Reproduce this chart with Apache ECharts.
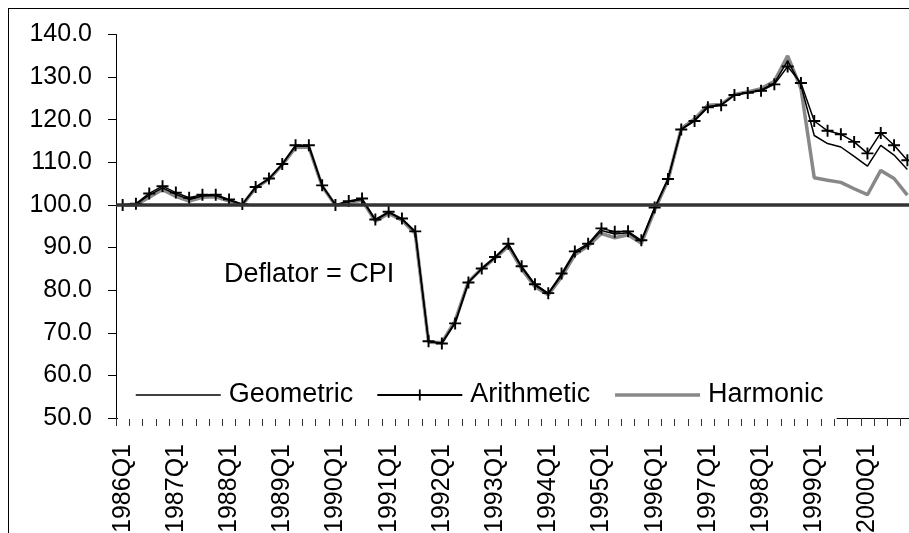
<!DOCTYPE html>
<html>
<head>
<meta charset="utf-8">
<script src="https://cdn.jsdelivr.net/npm/echarts@6/dist/echarts.min.js"></script>
<style>
  body { margin: 0; background: #fff; }
  /* outer frame of the original chart area */
  .frame { position: absolute; left: 8px; top: 8px; width: 1000px; height: 1000px; border: 1px solid #000; }
  #chart { position: absolute; left: 0; top: 0; width: 909px; height: 533px; }
</style>
</head>
<body>
<div class="frame"></div>
<div id="chart"></div>
<script>
// quarters 1986Q1 .. 2000Q4
const quarters = [];
for (let y = 1986; y <= 2000; y++) {
  for (let q = 1; q <= 4; q++) quarters.push(y + 'Q' + q);
}

const geometric = [
  100.0, 100.2, 102.3, 104.0, 102.5, 101.3, 102.1, 102.2, 101.1, 100.1,
  104.1, 106.1, 109.5, 113.8, 113.8, 104.5, 100.0, 100.8, 101.3, 96.4,
  98.2, 96.6, 93.6, 67.9, 67.6, 72.5, 81.9, 85.0, 87.6, 90.6,
  85.3, 81.1, 79.1, 83.5, 88.7, 90.6, 94.0, 93.2, 93.5, 91.4,
  99.1, 106.0, 117.8, 119.9, 123.1, 123.5, 125.8, 126.4, 127.0, 128.6,
  133.8, 128.1, 116.3, 114.4, 113.6, 111.4, 109.1, 114.0, 111.7, 108.3
];

const arithmetic = [
  100.0, 100.3, 102.7, 104.4, 102.9, 101.7, 102.4, 102.4, 101.3, 100.2,
  104.2, 106.2, 109.6, 114.0, 114.0, 104.6, 100.0, 100.9, 101.5, 96.6,
  98.4, 96.8, 93.8, 68.0, 67.5, 72.2, 81.8, 85.1, 87.8, 90.9,
  85.6, 81.4, 79.3, 83.9, 89.1, 90.9, 94.5, 93.7, 93.8, 91.7,
  99.4, 106.1, 117.7, 119.7, 122.9, 123.4, 125.8, 126.3, 126.8, 128.3,
  132.5, 128.6, 119.7, 117.4, 116.6, 114.8, 112.1, 116.9, 114.0, 110.5
];

const harmonic = [
  100.0, 100.0, 101.8, 103.6, 102.0, 100.9, 101.8, 101.9, 100.9, 100.0,
  104.0, 106.0, 109.4, 113.5, 113.6, 104.4, 99.9, 100.6, 101.1, 96.2,
  98.0, 96.4, 93.3, 67.8, 67.7, 72.8, 82.0, 85.0, 87.5, 90.3,
  85.0, 80.8, 78.9, 83.1, 88.3, 90.4, 93.3, 92.3, 93.0, 91.0,
  98.8, 105.8, 117.9, 120.2, 123.4, 123.6, 125.9, 126.5, 127.3, 129.0,
  135.0, 127.3, 106.4, 105.8, 105.3, 103.8, 102.4, 108.1, 106.2, 102.3
];

const baseLevel = 100;
const font = '"Liberation Sans", Arial, sans-serif';
const plus = 'path://M0,4.2H10V5.8H0Z M4.2,0H5.8V10H4.2Z';

const chart = echarts.init(document.getElementById('chart'));
chart.setOption({
  animation: false,
  textStyle: { fontFamily: font, color: '#000' },
  grid: { left: 116, top: 34.5, right: -5, bottom: 115, outerBoundsMode: 'none' },
  legend: {
    // no dot on the plain lines, only the cross on Arithmetic
    data: [
      { name: 'Geometric', itemStyle: { opacity: 0 }, lineStyle: { color: '#000', width: 1.5 } },
      { name: 'Arithmetic' },
      { name: 'Harmonic', itemStyle: { opacity: 0 }, lineStyle: { color: '#888', width: 3.5 } }
    ],
    left: 118,
    top: 374,
    padding: [6, 13, 9, 17],
    backgroundColor: '#fff',
    itemWidth: 85,
    itemHeight: 14,
    itemGap: 23,
    textStyle: { fontSize: 27, fontFamily: font, color: '#000', lineHeight: 30, padding: [0, 0, 0, 3] }
  },
  graphic: [{
    type: 'text',
    left: 224,
    top: 261,
    style: { text: 'Deflator = CPI', font: '27px ' + font, fill: '#000' }
  }],
  xAxis: {
    type: 'category',
    data: quarters,
    boundaryGap: true,
    axisLine: { show: true, lineStyle: { color: '#000', width: 1 } },
    axisTick: { show: true, interval: 0, length: 8, lineStyle: { color: '#333', width: 1 } },
    axisLabel: { interval: 3, rotate: 90, fontSize: 25, margin: 26, color: '#000', fontFamily: font },
    splitLine: { show: false }
  },
  yAxis: {
    type: 'value',
    min: 50,
    max: 140,
    interval: 10,
    axisLine: { show: true, lineStyle: { color: '#000', width: 1 } },
    axisTick: { show: true, length: 8, lineStyle: { color: '#000', width: 1 } },
    axisLabel: { fontSize: 25, margin: 24, color: '#000', fontFamily: font,
      formatter: v => v.toFixed(1) },
    splitLine: { show: false }
  },
  series: [
    {
      name: 'Harmonic',
      type: 'line',
      data: harmonic,
      symbol: 'none',
      z: 1,
      lineStyle: { color: '#888', width: 3.5 },
      itemStyle: { color: '#888' },
      markLine: {
        silent: true,
        symbol: 'none',
        label: { show: false },
        lineStyle: { color: '#333', width: 3.5, type: 'solid' },
        data: [{ yAxis: baseLevel }]
      }
    },
    {
      name: 'Geometric',
      type: 'line',
      data: geometric,
      symbol: 'none',
      z: 2,
      lineStyle: { color: '#000', width: 1.5 },
      itemStyle: { color: '#000' }
    },
    {
      name: 'Arithmetic',
      type: 'line',
      data: arithmetic,
      symbol: plus,
      symbolSize: 12,
      showAllSymbol: true,
      z: 3,
      lineStyle: { color: '#000', width: 1.5 },
      itemStyle: { color: '#000' }
    }
  ]
});
</script>
</body>
</html>
